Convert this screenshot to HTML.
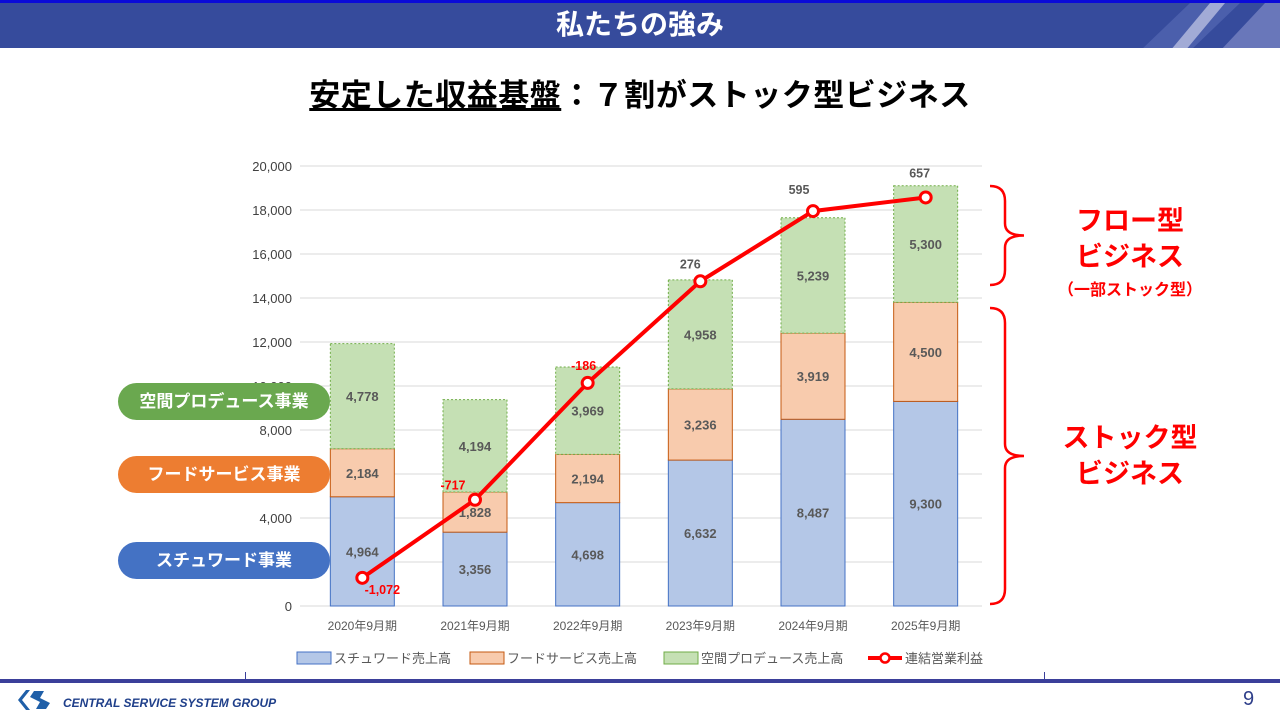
<!DOCTYPE html>
<html><head><meta charset="utf-8">
<style>
body{margin:0;width:1280px;height:720px;overflow:hidden;background:#fff;font-family:"Liberation Sans","Noto Sans CJK JP",sans-serif;position:relative}
.hdr{position:absolute;left:0;top:0;width:1280px;height:48px;background:#364b9c;border-top:3px solid #0a0ad8;box-sizing:border-box;overflow:hidden}
.hdr h1{margin:0;text-align:center;color:#fff;font-size:28px;line-height:44px;font-weight:bold}
.sub{position:absolute;top:70px;left:0;width:1280px;text-align:center;font-size:31px;font-weight:bold;color:#000;letter-spacing:0.5px}
.pill{position:absolute;left:118px;width:212px;height:37px;border-radius:19px;color:#fff;font-size:17px;font-weight:bold;text-align:center;line-height:37px}
.rt{position:absolute;color:#f00;font-weight:bold;text-align:center;width:200px;left:1030px}
</style></head><body>
<div class="hdr">
<h1>私たちの強み</h1>
<svg style="position:absolute;left:1100px;top:0" width="180" height="48"><polygon points="40,48 90,0 140,0 90,48" fill="#5a6db8" opacity="0.6"/><polygon points="70,48 110,0 125,0 85,48" fill="#c8cce8" opacity="0.7"/><polygon points="120,48 165,0 180,0 180,48" fill="#8c95cf" opacity="0.6"/></svg>
</div>
<div class="sub"><span style="text-decoration:underline">安定した収益基盤</span>：７割がストック型ビジネス</div>
<svg id="chart" style="position:absolute;left:0;top:0" width="1280" height="720"></svg>
<div class="pill" style="top:383px;background:#6aa84f">空間プロデュース事業</div>
<div class="pill" style="top:456px;background:#ed7d31">フードサービス事業</div>
<div class="pill" style="top:542px;background:#4472c4">スチュワード事業</div>
<div class="rt" style="top:203px;font-size:27px;line-height:36px">フロー型<br>ビジネス</div>
<div class="rt" style="top:276px;font-size:16px">（一部ストック型）</div>
<div class="rt" style="top:420px;font-size:27px;line-height:36px">ストック型<br>ビジネス</div>
<div style="position:absolute;left:0;top:679px;width:1280px;height:4px;background:#3b3f9a"></div>
<div style="position:absolute;left:245px;top:672px;width:800px;height:8px;border:1px solid #3b3f9a;border-top:none;box-sizing:border-box"></div>
<svg style="position:absolute;left:16px;top:690px" width="50" height="20"><polygon points="10,0 2,10 10,20 14,20 6,10 14,0" fill="#1f5fa8"/><path d="M28,1 L18,1 L14,7 L24,12 L20,19 L30,19 L34,13 L24,8 Z" fill="#1f5fa8"/></svg>
<div style="position:absolute;left:63px;top:696px;font-size:12px;font-style:italic;font-weight:bold;color:#1f3f8a">CENTRAL SERVICE SYSTEM GROUP</div>
<div style="position:absolute;left:1243px;top:688px;font-size:20px;color:#2f3f8a">9</div>
<script>
const categories=["2020年9月期","2021年9月期","2022年9月期","2023年9月期","2024年9月期","2025年9月期"];
const steward=[4964,3356,4698,6632,8487,9300];
const food=[2184,1828,2194,3236,3919,4500];
const space=[4778,4194,3969,4958,5239,5300];
const profit=[-1072,-717,-186,276,595,657];
const yTicks=[0,2000,4000,6000,8000,10000,12000,14000,16000,18000,20000];
const NS="http://www.w3.org/2000/svg";
const svg=document.getElementById('chart');
const x0=306,x1=982,yb=606,yt=166;
const y=v=>yb-(v/20000)*(yb-yt);
const y2=v=>yb-((v+1200)/2000)*(yb-yt);
const step=(x1-x0)/categories.length;
const cx=i=>x0+step*(i+0.5);
function el(t,a,txt){const e=document.createElementNS(NS,t);for(const k in a)e.setAttribute(k,a[k]);if(txt!==undefined)e.textContent=txt;svg.appendChild(e);return e;}
yTicks.forEach(v=>{const g=el('line',{x1:300,x2:x1,y1:y(v),y2:y(v),stroke:'#d9d9d9','stroke-width':1});

const t=el('text',{x:292,y:y(v)+5,'text-anchor':'end','font-size':13,fill:'#404040'},v.toLocaleString('en-US'));
});
const bw=64;
const series=[[steward,'#b4c7e7','#4472c4',''],[food,'#f8cbad','#c55a11',''],[space,'#c5e0b4','#70ad47','2,2']];
categories.forEach((c,i)=>{let base=0;
series.forEach(([arr,fill,stroke,dash],s)=>{const v=arr[i];
const r=el('rect',{x:cx(i)-bw/2,y:y(base+v),width:bw,height:y(base)-y(base+v),fill:fill,stroke:stroke,'stroke-width':1,'stroke-dasharray':dash});

const t=el('text',{x:cx(i),y:(y(base)+y(base+v))/2+5,'text-anchor':'middle','font-size':13,'font-weight':'bold',fill:'#595959'},v.toLocaleString('en-US'));

base+=v;});
const t=el('text',{x:cx(i),y:630,'text-anchor':'middle','font-size':12,fill:'#595959'},c);
});
const pl=el('polyline',{points:profit.map((v,i)=>cx(i)+','+y2(v)).join(' '),fill:'none',stroke:'#f00','stroke-width':4});

const offs=[[20,16],[-22,-10],[-4,-13],[-10,-13],[-14,-17],[-6,-20]];
profit.forEach((v,i)=>{const c=el('circle',{cx:cx(i),cy:y2(v),r:5.5,fill:'#fff',stroke:'#f00','stroke-width':3});

const t=el('text',{x:cx(i)+offs[i][0],y:y2(v)+offs[i][1],'text-anchor':'middle','font-size':12.5,'font-weight':'bold',fill:v<0?'#f00':'#595959'},v.toLocaleString('en-US'));
});
[[186,285],[308,604]].forEach(([a,b],k)=>{const m=(a+b)/2;
const p=el('path',{d:`M990,${a} Q1005,${a} 1005,${a+15} L1005,${m-12} Q1005,${m} 1024,${m} Q1005,${m} 1005,${m+12} L1005,${b-15} Q1005,${b} 990,${b}`,fill:'none',stroke:'#f00','stroke-width':2.5});
});
const leg=[['スチュワード売上高','#b4c7e7','#4472c4',297],['フードサービス売上高','#f8cbad','#c55a11',470],['空間プロデュース売上高','#c5e0b4','#70ad47',664]];
leg.forEach(([n,f,s,lx])=>{const r=el('rect',{x:lx,y:652,width:34,height:12,fill:f,stroke:s});

const t=el('text',{x:lx+37,y:663,'font-size':13,fill:'#595959'},n);
});
const ll=el('line',{x1:868,x2:902,y1:658,y2:658,stroke:'#f00','stroke-width':4});

const lc=el('circle',{cx:885,cy:658,r:4.5,fill:'#fff',stroke:'#f00','stroke-width':2.5});

const lt=el('text',{x:905,y:663,'font-size':13,fill:'#595959'},'連結営業利益');

</script>
</body></html>
